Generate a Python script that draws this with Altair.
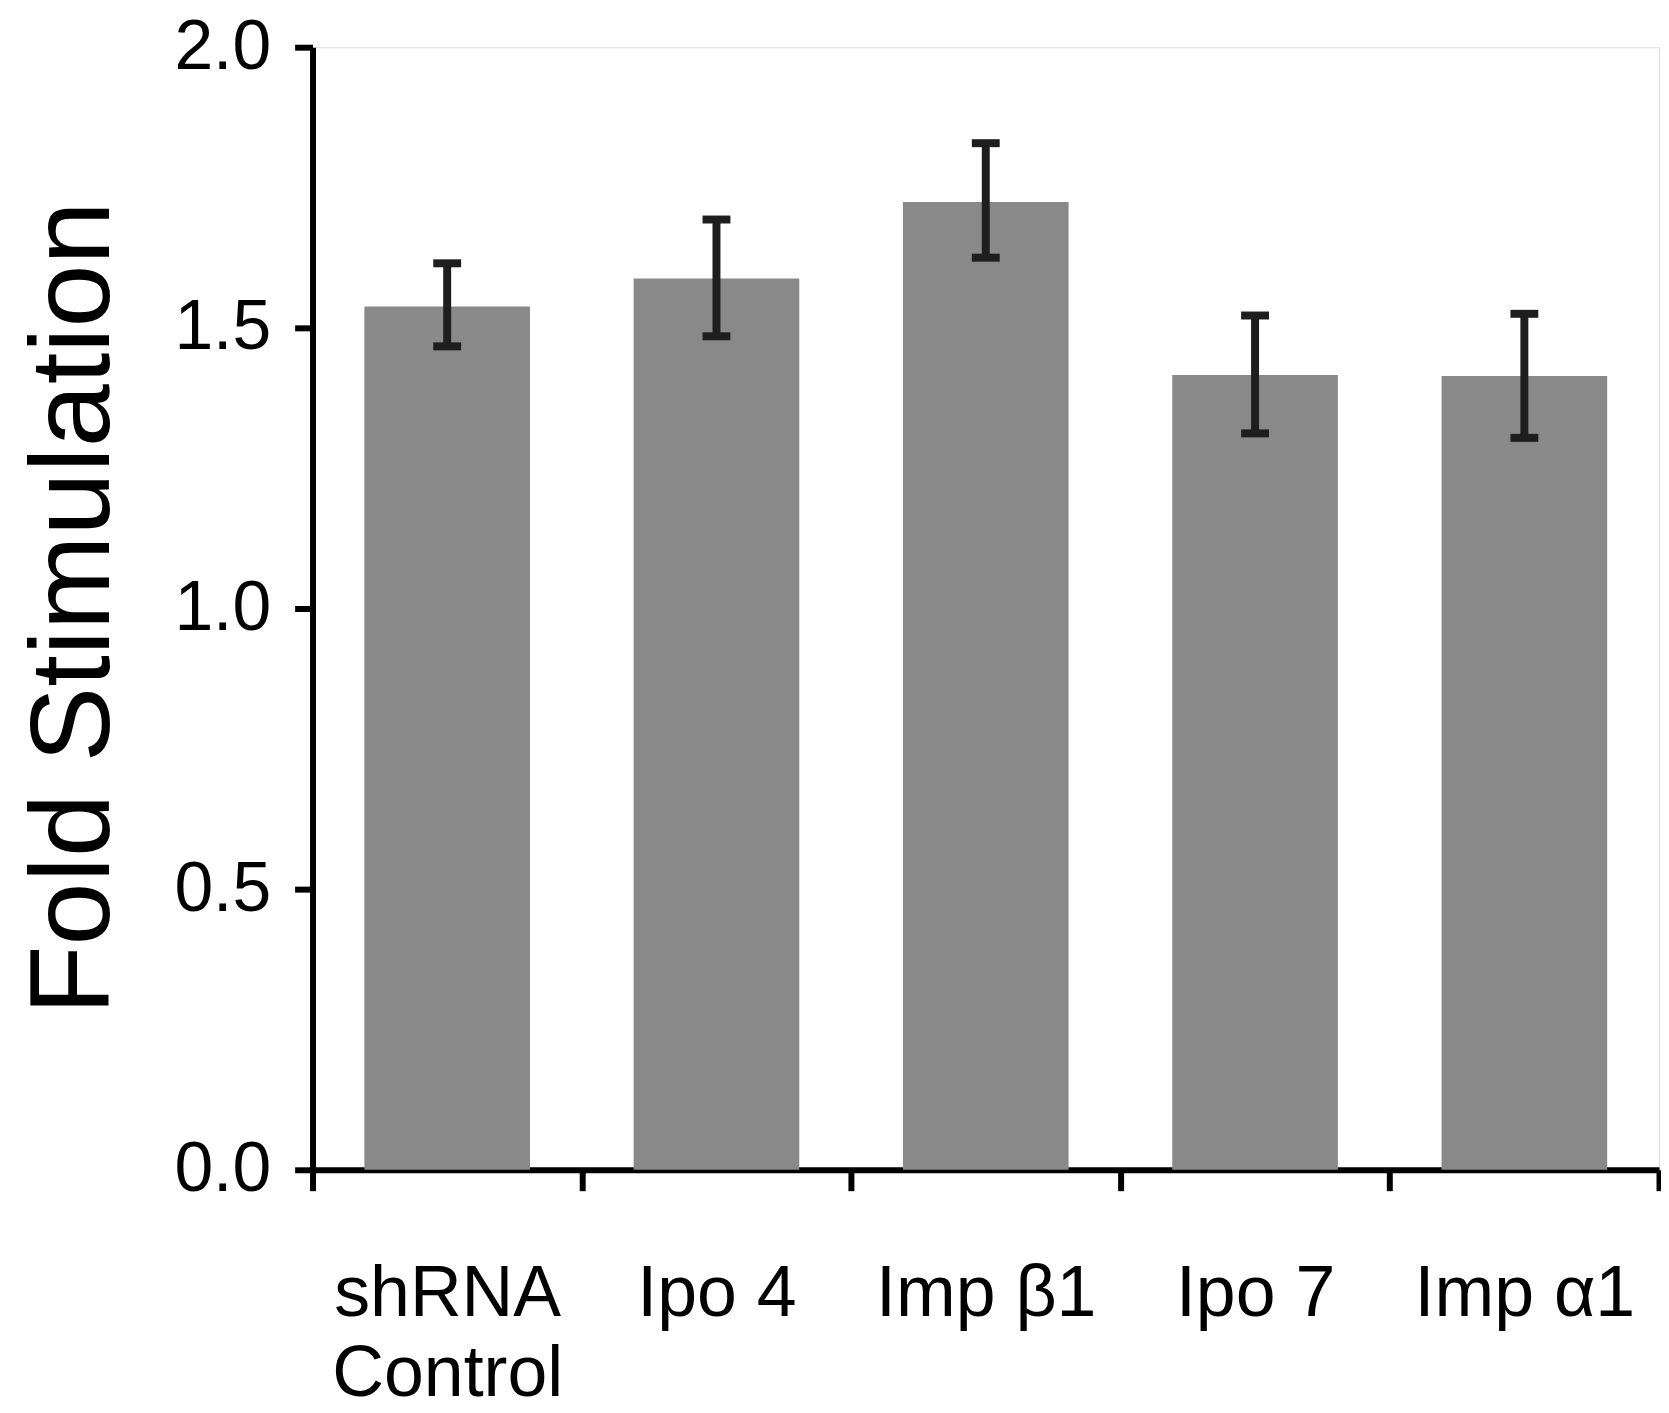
import altair as alt
import pandas as pd

categories = ["shRNA Control", "Ipo 4", "Imp β1", "Ipo 7", "Imp α1"]
means = [1.538, 1.588, 1.724, 1.416, 1.414]
err_low = [1.467, 1.485, 1.625, 1.312, 1.304]
err_high = [1.615, 1.693, 1.829, 1.522, 1.525]

df = pd.DataFrame({"cat": categories, "mean": means, "lo": err_low, "hi": err_high})

FONT = "Liberation Sans"

x_scale = alt.Scale(paddingInner=0, paddingOuter=0)

x = alt.X(
    "cat:N",
    sort=categories,
    scale=x_scale,
    axis=alt.Axis(
        title=None,
        labelAngle=0,
        labelFontSize=72,
        labelFont=FONT,
        labelColor="black",
        labelPadding=68,
        labelLineHeight=81,
        labelLimit=0,
        labelExpr="datum.value === 'shRNA Control' ? ['shRNA', 'Control'] : datum.value",
        tickBand="extent",
        tickSize=21,
        tickWidth=6,
        tickColor="black",
        domainWidth=6,
        domainColor="black",
        labelOverlap=False,
        grid=False,
    ),
)

y_scale = alt.Scale(domain=[0, 2], nice=False, zero=True)

bars = alt.Chart(df).mark_bar(color="#898989", width=alt.RelativeBandSize(0.615)).encode(
    x=x,
    y=alt.Y(
        "mean:Q",
        scale=y_scale,
        axis=alt.Axis(
            title="Fold Stimulation",
            titleFontSize=114,
            titleFont=FONT,
            titleFontWeight="normal",
            titleColor="black",
            titleX=-181,
            titleY=563,
            titleAngle=-90,
            titleAlign="center",
            values=[0, 0.5, 1.0, 1.5, 2.0],
            format=".1f",
            labelFontSize=70,
            labelFont=FONT,
            labelColor="black",
            labelPadding=24,
            tickSize=18,
            tickWidth=6,
            tickColor="black",
            domainWidth=6,
            domainColor="black",
            grid=False,
        ),
    ),
)

rules = alt.Chart(df).mark_rule(color="#1e1e1e", strokeWidth=8, opacity=1).encode(
    x=alt.X("cat:N", sort=categories, scale=x_scale),
    y=alt.Y("lo:Q", scale=y_scale),
    y2="hi:Q",
)

caps_lo = alt.Chart(df).mark_tick(color="#1e1e1e", size=28, thickness=8, opacity=1).encode(
    x=alt.X("cat:N", sort=categories, scale=x_scale),
    y=alt.Y("lo:Q", scale=y_scale),
)
caps_hi = alt.Chart(df).mark_tick(color="#1e1e1e", size=28, thickness=8, opacity=1).encode(
    x=alt.X("cat:N", sort=categories, scale=x_scale),
    y=alt.Y("hi:Q", scale=y_scale),
)

chart = (
    alt.layer(bars, rules, caps_lo, caps_hi)
    .properties(
        width=1353,
        height=1128,
        autosize=alt.AutoSizeParams(type="none"),
        padding={"left": 306, "top": 36, "right": 2, "bottom": 241},
    )
    .configure_view(stroke=None)
    .configure(background="white")
)

chart.save("out.html", embed_options={"renderer": "svg", "actions": False})
